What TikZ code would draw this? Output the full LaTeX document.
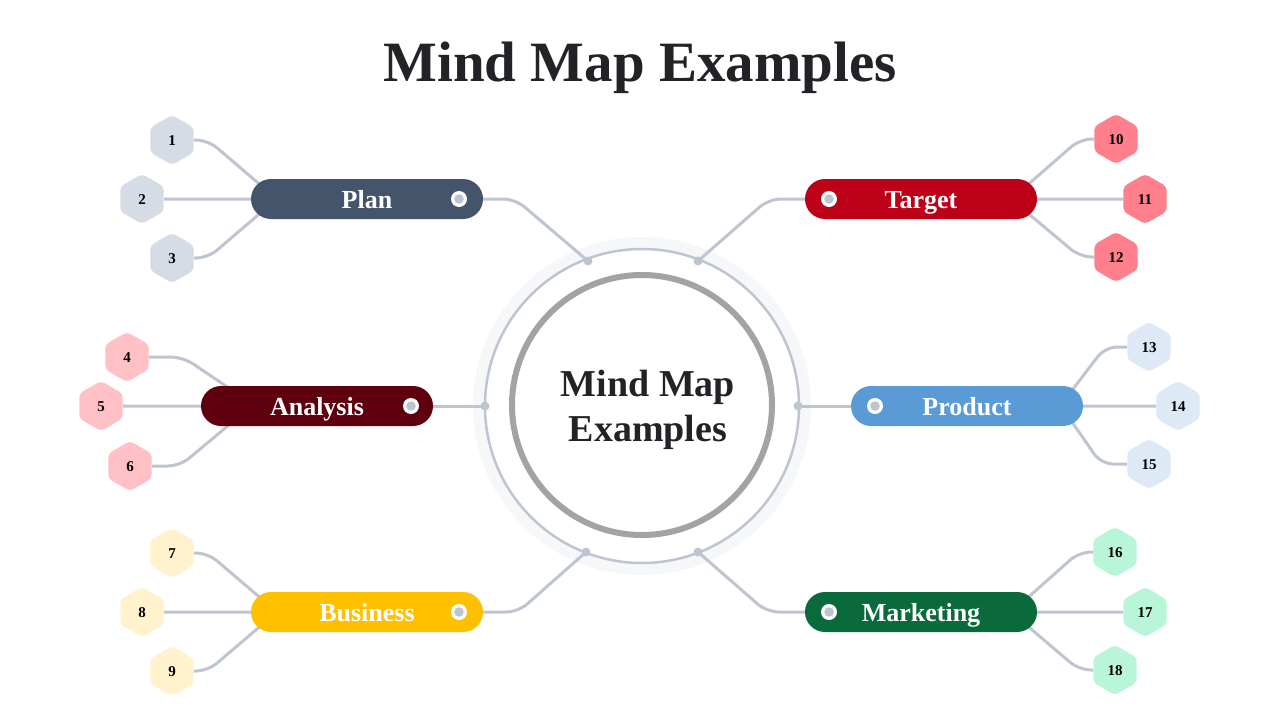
\documentclass[tikz,border=0pt]{standalone}
\usepackage{fontspec}
\setmainfont{Liberation Serif}
\usetikzlibrary{shapes.geometric,calc,backgrounds}
\definecolor{titlec}{HTML}{222326}
\definecolor{linec}{HTML}{BFC5D0}
\definecolor{haloc}{HTML}{F6F7F9}
\definecolor{ringc}{HTML}{A3A3A3}
\definecolor{planc}{HTML}{44546A}
\definecolor{targetc}{HTML}{BC0018}
\definecolor{analysisc}{HTML}{5F000F}
\definecolor{productc}{HTML}{5B9BD5}
\definecolor{businessc}{HTML}{FFC000}
\definecolor{marketingc}{HTML}{0B6A3B}
\definecolor{hplan}{HTML}{D6DCE5}
\definecolor{htarget}{HTML}{FF7F8C}
\definecolor{hanalysis}{HTML}{FFC0C6}
\definecolor{hproduct}{HTML}{DEE9F6}
\definecolor{hbusiness}{HTML}{FFF2CC}
\definecolor{hmarketing}{HTML}{B9F6D9}
\begin{document}
\begin{tikzpicture}[x=1pt,y=-1pt,
  hexnode/.style={regular polygon, regular polygon sides=6, shape border rotate=30,
    minimum size=50pt, inner sep=0pt, rounded corners=4pt,
    font=\fontsize{15}{15}\selectfont\bfseries, text=black, text height=10pt, text depth=0pt},
  pill/.style={rectangle, rounded corners=20pt, minimum width=232pt, minimum height=40pt,
    inner sep=0pt, text=white, font=\fontsize{26}{26}\selectfont\bfseries,
    text height=18pt, text depth=0pt},
  conn/.style={draw=linec, line width=3pt, rounded corners=12pt},
  ringdot/.style={fill=linec}
]
\useasboundingbox (0,0) rectangle (1280,720);

% title
\node[anchor=base, text=titlec, font=\fontsize{57}{57}\selectfont\bfseries] (title) at (640,81) {Mind Map Examples};

% centre
\coordinate (c) at (642,406);
\node[circle, draw=ringc, fill=white, line width=6pt, minimum size=260pt, inner sep=0pt] (core) at (642,405) {};
\node[anchor=base, text=titlec, font=\fontsize{38}{38}\selectfont\bfseries] (ct1) at (648,396) {Mind Map};
\node[anchor=base, text=titlec, font=\fontsize{38}{38}\selectfont\bfseries] (ct2) at (648,441) {Examples};

\coordinate (d1) at (588,261);
\coordinate (d2) at (698,261);
\coordinate (d3) at (485,406);
\coordinate (d4) at (798,406);
\coordinate (d5) at (586,552);
\coordinate (d6) at (698,552);

% pills
\node[pill, fill=planc] (plan) at (367,199) {Plan};
\node[pill, fill=targetc] (target) at (921,199) {Target};
\node[pill, fill=analysisc] (analysis) at (317,406) {Analysis};
\node[pill, fill=productc] (product) at (967,406) {Product};
\node[pill, fill=businessc] (business) at (367,612) {Business};
\node[pill, fill=marketingc] (marketing) at (921,612) {Marketing};

% pill dots
\foreach \p in {(459,199),(829,199),(411,406),(875,406),(459,612),(829,612)}{
  \fill[white] \p circle (8pt);
  \fill[linec] \p circle (4.8pt);
}

% hexagons
\node[hexnode, fill=hplan] (h1) at (172,140) {1};
\node[hexnode, fill=hplan] (h2) at (142,199) {2};
\node[hexnode, fill=hplan] (h3) at (172,258) {3};
\node[hexnode, fill=hanalysis] (h4) at (127,357) {4};
\node[hexnode, fill=hanalysis] (h5) at (101,406) {5};
\node[hexnode, fill=hanalysis] (h6) at (130,466) {6};
\node[hexnode, fill=hbusiness] (h7) at (172,553) {7};
\node[hexnode, fill=hbusiness] (h8) at (142,612) {8};
\node[hexnode, fill=hbusiness] (h9) at (172,671) {9};
\node[hexnode, fill=htarget] (h10) at (1116,139) {10};
\node[hexnode, fill=htarget] (h11) at (1145,199) {11};
\node[hexnode, fill=htarget] (h12) at (1116,257) {12};
\node[hexnode, fill=hproduct] (h13) at (1149,347) {13};
\node[hexnode, fill=hproduct] (h14) at (1178,406) {14};
\node[hexnode, fill=hproduct] (h15) at (1149,464) {15};
\node[hexnode, fill=hmarketing] (h16) at (1115,552) {16};
\node[hexnode, fill=hmarketing] (h17) at (1145,612) {17};
\node[hexnode, fill=hmarketing] (h18) at (1115,670) {18};

% ring dots
\foreach \d in {d1,d2,d3,d4,d5,d6}{\fill[ringdot] (\d) circle (4.5pt);}

\begin{pgfonlayer}{background}
  \fill[white] (0,0) rectangle (1280,720);
  \draw[haloc, line width=12pt] (c) circle (163pt);
  \draw[linec, line width=2.5pt] (c) circle (157pt);
  % pill to ring
  \draw[conn] (plan.east) -- ++(32,0) -- (d1);
  \draw[conn] (target.west) -- ++(-36,0) -- (d2);
  \draw[conn] (analysis.east) -- (d3);
  \draw[conn] (d4) -- (product.west);
  \draw[conn] (business.east) -- ++(35,0) -- (d5);
  \draw[conn] (marketing.west) -- ++(-38,0) -- (d6);
  % hex to pills, left
  \draw[conn] (h1.east) -- ++(14,0) -- ($(plan.west)+(12,-12)$);
  \draw[conn] (h2.east) -- (plan.west);
  \draw[conn] (h3.east) -- ++(14,0) -- ($(plan.west)+(12,12)$);
  \draw[conn] (h4.east) -- ++(34,0) -- ($(analysis.west)+(34,-14)$);
  \draw[conn] (h5.east) -- (analysis.west);
  \draw[conn] (h6.east) -- ++(28,0) -- ($(analysis.west)+(34,14)$);
  \draw[conn] (h7.east) -- ++(14,0) -- ($(business.west)+(12,-12)$);
  \draw[conn] (h8.east) -- (business.west);
  \draw[conn] (h9.east) -- ++(14,0) -- ($(business.west)+(12,12)$);
  % hex to pills, right
  \draw[conn] (h10.west) -- ++(-14,0) -- ($(target.east)+(-12,-12)$);
  \draw[conn] (h11.west) -- (target.east);
  \draw[conn] (h12.west) -- ++(-14,0) -- ($(target.east)+(-12,12)$);
  \draw[conn] (h13.west) -- ++(-22,0) -- ($(product.east)+(-14,-12)$);
  \draw[conn] (h14.west) -- (product.east);
  \draw[conn] (h15.west) -- ++(-26,0) -- ($(product.east)+(-14,12)$);
  \draw[conn] (h16.west) -- ++(-14,0) -- ($(marketing.east)+(-12,-12)$);
  \draw[conn] (h17.west) -- (marketing.east);
  \draw[conn] (h18.west) -- ++(-14,0) -- ($(marketing.east)+(-12,12)$);
\end{pgfonlayer}
\end{tikzpicture}
\end{document}
